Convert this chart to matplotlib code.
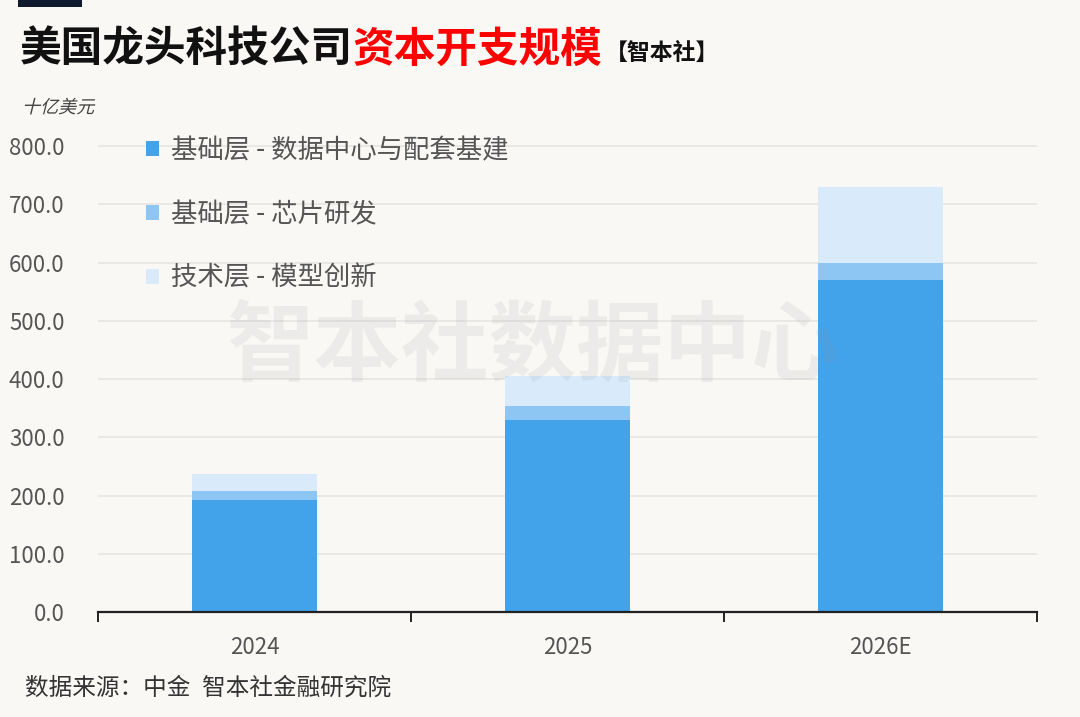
import matplotlib
matplotlib.use('Agg')
import matplotlib.pyplot as plt
import numpy as np
from matplotlib.patches import Patch, PathPatch, Rectangle
from matplotlib.textpath import TextPath
from matplotlib.font_manager import FontProperties
from matplotlib.transforms import Affine2D

# Datos (mil millones de USD)
anios = ['2024', '2025', '2026E']
centros_datos = [193, 330, 570]
chips = [15, 24, 29]
modelos = [29, 51, 131]
series = ['基础层 - 数据中心与配套基建', '基础层 - 芯片研发', '技术层 - 模型创新']
colores = ['#42a2ea', '#8dc6f3', '#d9eafa']
yticks = [0, 100, 200, 300, 400, 500, 600, 700, 800]

plt.rcParams['font.family'] = ['Noto Sans CJK SC', 'DejaVu Sans']
fondo = '#f9f8f5'

fig = plt.figure(figsize=(10.8, 7.17), dpi=100, facecolor=fondo)
ax = fig.add_axes([98 / 1080, 105 / 717, 939 / 1080, 495 / 717])
ax.set_facecolor(fondo)

x = np.arange(len(anios))
ancho = 0.40
b1 = np.array(centros_datos)
b2 = b1 + np.array(chips)
ax.bar(x, centros_datos, ancho, color=colores[0], zorder=2)
ax.bar(x, chips, ancho, bottom=b1, color=colores[1], zorder=2)
ax.bar(x, modelos, ancho, bottom=b2, color=colores[2], zorder=2)

ax.set_xlim(-0.5, 2.5)
ax.set_ylim(0, 850)
ax.set_yticks(yticks)
ax.set_yticklabels([f'{v:.1f}' for v in yticks])
ax.grid(axis='y', color='#e6e5e2', linewidth=1.2, zorder=0)
ax.set_axisbelow(True)

for lado in ['top', 'right', 'left']:
    ax.spines[lado].set_visible(False)
ax.spines['bottom'].set_color('#222222')
ax.spines['bottom'].set_linewidth(1.6)

ax.set_xticks(x)
ax.set_xticklabels(anios)
ax.set_xticks([-0.5, 0.5, 1.5, 2.5], minor=True)
ax.tick_params(axis='x', which='major', length=0, pad=17, labelsize=16, labelcolor='#555555')
ax.tick_params(axis='x', which='minor', length=7, width=1.4, color='#222222', direction='out')
ax.tick_params(axis='y', length=0, pad=24, labelsize=16, labelcolor='#555555')

# Leyenda
manijas = [Patch(facecolor=c, edgecolor='none') for c in colores]
fig.legend(manijas, series, loc='upper left', bbox_to_anchor=(146 / 1080, 1 - 137 / 717),
           frameon=False, fontsize=19, labelcolor='#555555', handlelength=0.5, handleheight=0.5,
           handletextpad=0.45, labelspacing=1.4, borderpad=0, borderaxespad=0)

# Marca de agua
fig.text(533 / 1080, 1 - 348 / 717, '智本社数据中心', fontsize=63, fontweight='bold',
         color='#9a9a9a', alpha=0.13, ha='center', va='center', zorder=10)

# Barra superior
fig.patches.append(Rectangle((18 / 1080, 1 - 7 / 717), 64 / 1080, 7 / 717,
                             transform=fig.transFigure, facecolor='#0f1b2d', edgecolor='none'))

# Titulo en tres partes
renderer = fig.canvas.get_renderer()
t1 = fig.text(20 / 1080, 1 - 50 / 717, '美国龙头科技公司', fontsize=30, fontweight='bold',
              color='#111111', va='center', ha='left')
bb = t1.get_window_extent(renderer)
t2 = fig.text(bb.x1 / 1080, 1 - 50 / 717, '资本开支规模', fontsize=30, fontweight='bold',
              color='#ff0000', va='center', ha='left')
bb2 = t2.get_window_extent(renderer)
fig.text(bb2.x1 / 1080 + 2 / 1080, 1 - 53 / 717, '【智本社】', fontsize=16.5, fontweight='bold',
         color='#111111', va='center', ha='left')

# Unidad en cursiva (inclinada a mano)
tp = TextPath((0, 0), '十亿美元', size=13, prop=FontProperties(family='Noto Sans CJK SC'))
tr = Affine2D().skew_deg(14, 0).scale(1 / 72).translate(22 / 100, (717 - 113) / 100) + fig.dpi_scale_trans
fig.patches.append(PathPatch(tp, transform=tr, facecolor='#444444', edgecolor='none'))

# Fuente
fig.text(25 / 1080, 1 - 688 / 717, '数据来源：中金\u2002智本社金融研究院', fontsize=17,
         color='#333333', va='center', ha='left')

fig.savefig('out.png', dpi=100, facecolor=fondo)
